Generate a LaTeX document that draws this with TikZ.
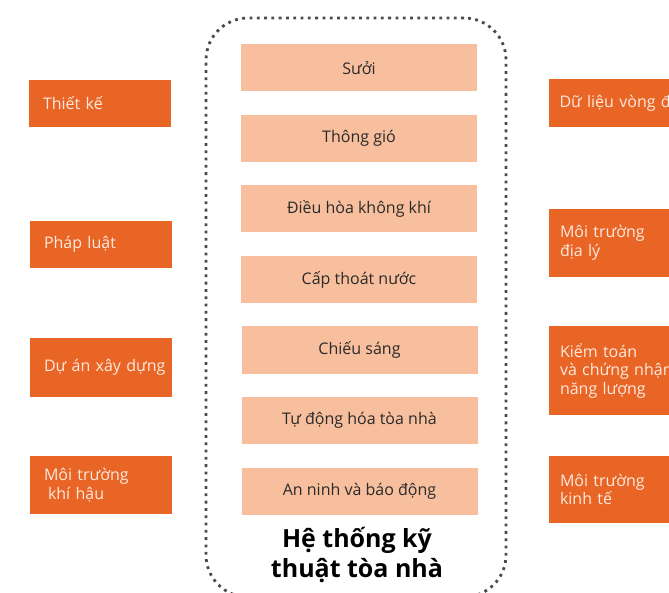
\documentclass[tikz,border=0pt]{standalone}
\usepackage{fontspec}
\setmainfont{Open Sans}
\usepackage{tikz}
\usetikzlibrary{positioning, shapes, arrows.meta}
\definecolor{factorfill}{HTML}{E96526}
\definecolor{factortext}{HTML}{FDE9DE}
\definecolor{systemfill}{HTML}{F7BF9D}
\definecolor{systemtext}{HTML}{2A2A2A}
\definecolor{framecol}{HTML}{4A4A4A}

\begin{document}
\begin{tikzpicture}[
			x = 1pt, y = -1pt,
			system/.style = {rectangle, fill = systemfill, text = systemtext, text centered, inner sep = 0pt, minimum width = 236pt, minimum height = 47pt, font = \fontsize{16}{19}\selectfont},
			factor/.style = {rectangle, fill = factorfill, text = factortext, align = left, inner xsep = 14pt, inner ysep = 0pt, text width = 114pt, font = \fontsize{16}{18.5}\selectfont},
			factorR/.style = {factor, inner xsep = 11pt, text width = 121pt},
			frame/.style = {rectangle, draw = framecol, line width = 2.8pt, dash pattern = on 2.8pt off 4.5pt, rounded corners = 42pt, inner sep = 0pt, minimum width = 300pt, minimum height = 579pt},
			title/.style = {align = center, font = \fontsize{25}{30}\selectfont\bfseries},
		]
		\useasboundingbox (0,0) rectangle (669,593);
		\clip (0,0) rectangle (669,593);

		% dotted frame around the building systems
		\node[frame](BOX) at (356,307.5){};

		\node[system](C1) at (359,68){Sưởi};
		\node[system](C2) at (359,138.5){Thông gió};
		\node[system](C3) at (359,209){Điều hòa không khí};
		\node[system](C4) at (359,279.5){Cấp thoát nước};
		\node[system](C5) at (359.5,350){Chiếu sáng};
		\node[system](C6) at (359.5,420.5){Tự động hóa tòa nhà};
		\node[system](C7) at (359.5,491.5){An ninh và báo động};

		\node[title](TITLE) at (357,555){Hệ thống kỹ\\thuật tòa nhà};

		% left column
		\node[factor, minimum height = 47pt](L1) at (100,103.5){Thiết kế};
		\node[factor, minimum height = 47pt](L2) at (101,244.5){Pháp luật};
		\node[factor, minimum height = 59pt](L3) at (101,367.5){\mbox{Dự án xây dựng}};
		\node[factor, minimum height = 58pt](L4) at (101,485){Môi trường\\\hspace{0.25em}khí hậu};

		% right column (runs past the edge)
		\node[factorR, minimum height = 48pt](R1) at (620,103){\mbox{Dữ liệu vòng đời}};
		\node[factorR, minimum height = 68pt](R2) at (620.5,243){Môi trường\\địa lý};
		\node[factorR, minimum height = 89pt](R3) at (620.5,370.5){Kiểm toán\\\mbox{và chứng nhận}\\năng lượng};
		\node[factorR, minimum height = 67pt](R4) at (620.5,489.5){Môi trường\\kinh tế};

	\end{tikzpicture}
\end{document}
